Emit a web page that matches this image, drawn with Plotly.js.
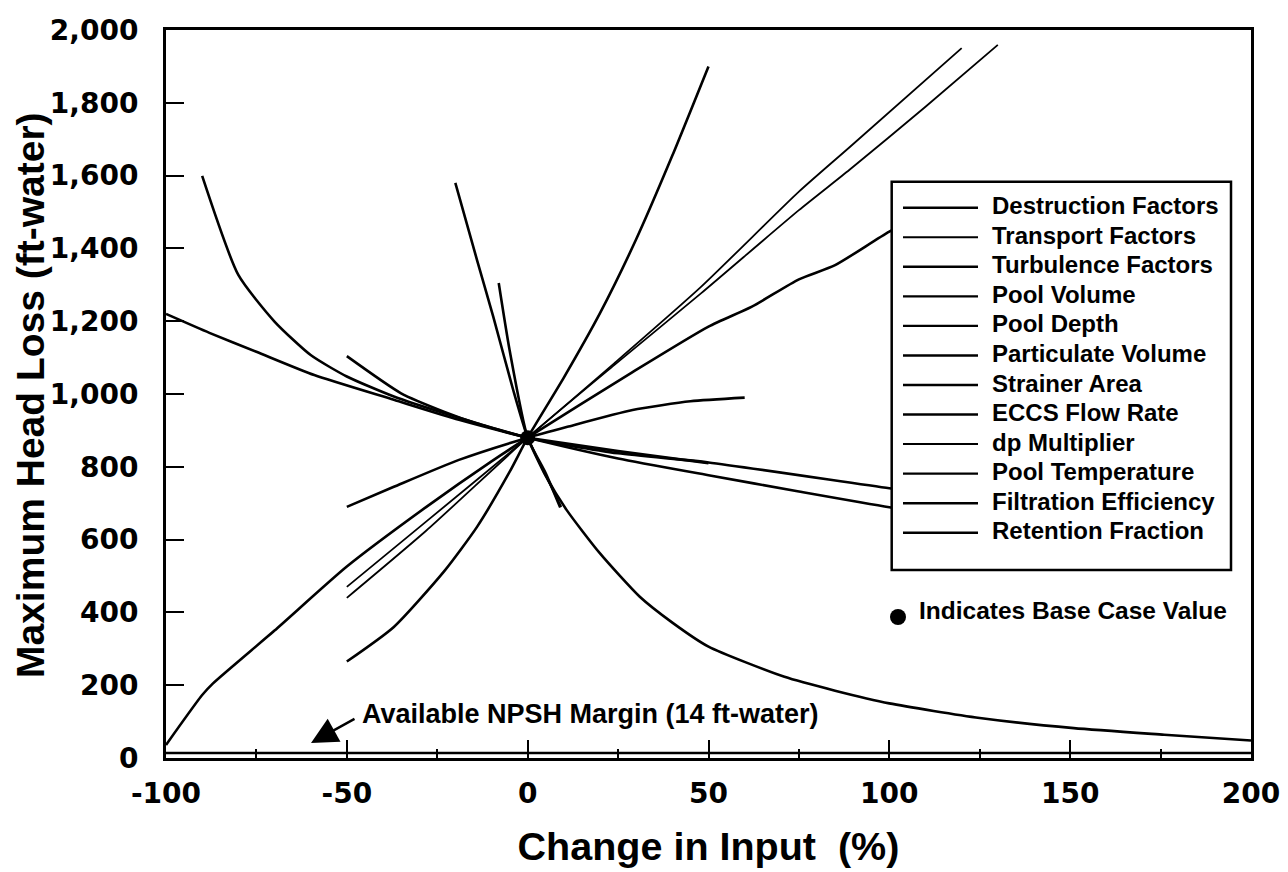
<!DOCTYPE html>
<html><head><meta charset="utf-8">
<script src="https://cdn.plot.ly/plotly-3.0.1.min.js"></script>
<style>html,body{margin:0;padding:0;background:#fff}</style>
</head><body><div id="chart" style="width:1288px;height:872px"></div>
<script>
// ---- data ----
const seriesNames = ["Destruction Factors","Transport Factors","Turbulence Factors","Pool Volume","Pool Depth","Particulate Volume","Strainer Area","ECCS Flow Rate","dp Multiplier","Pool Temperature","Filtration Efficiency","Retention Fraction"];

const destructionX = [-100,-90,-87,-70,-50,-28,-10,0,29,50,62,75,85,100,120];
const destructionY = [36,173,205,350,526,690,815,880,1060,1185,1240,1315,1354,1446,1550];

const transportX = [-50,-28,0,24,48,75,89,110,130];
const transportY = [440,625,880,1080,1277,1505,1616,1789,1959];

const turbulenceX = [-50,-37,-19,0,11,29,45,60];
const turbulenceY = [690,745,819,880,910,956,980,990];

const poolVolumeX = [-100,-88,-75,-59,-37,-19,0,25,50,75,100,120];
const poolVolumeY = [1220,1168,1116,1052,984,929,880,823,777,732,689,662];

const poolDepthX = [-90,-80,-70,-60,-50,-37,-23,0,25,50,100,120];
const poolDepthY = [1599,1327,1199,1107,1048,993,947,880,837,812,741,715];

const particulateX = [-50,-35,-23,-14,0];
const particulateY = [1104,1002,951,919,880];

const strainerX = [-20,-14,-9.5,-4,0,5,10.8,20,31,40,50,71,85,100,125,151,176,200];
const strainerY = [1580,1368,1212,1011,880,775,681,562,443,372,306,223,185,150,110,82,64,48];

const eccsX = [-50,-37,-23,-14,-5,0,10,20,30,40,50];
const eccsY = [265,360,514,635,786,880,1045,1222,1425,1655,1900];

const dpX = [-50,-28,0,24,48,75,89,120];
const dpY = [470,650,880,1085,1295,1556,1678,1950];

const poolTempX = [-8,-5,0,5,9];
const poolTempY = [1305,1121,880,782,688];

const filtrationX = [0,4.5,9.3];
const filtrationY = [880,785,690];

const retentionX = [0,25,50];
const retentionY = [880,843,810];

const baseX = [0];
const baseY = [880];

const npshX = [-100,200];
const npshY = [14,14];

const xTickVals = [-100,-50,0,50,100,150,200];
const xTickText = ["-100","-50","0","50","100","150","200"];
const yTickVals = [0,200,400,600,800,1000,1200,1400,1600,1800,2000];
const yTickText = ["0","200","400","600","800","1,000","1,200","1,400","1,600","1,800","2,000"];

// ---- styling ----
const seriesX = [destructionX,transportX,turbulenceX,poolVolumeX,poolDepthX,particulateX,strainerX,eccsX,dpX,poolTempX,filtrationX,retentionX];
const seriesY = [destructionY,transportY,turbulenceY,poolVolumeY,poolDepthY,particulateY,strainerY,eccsY,dpY,poolTempY,filtrationY,retentionY];
const widths = [2.6,1.8,2.6,2.6,2.6,2.6,2.6,2.6,1.8,2.6,2.0,2.6];

const PL=166, PR=1251, PT=30, PB=758;
const px = p => (p-PL)/(PR-PL);
const py = p => (PB-p)/(PB-PT);

const traces = seriesNames.map((n,i)=>({
  type:'scatter', mode:'lines', name:n, x:seriesX[i], y:seriesY[i],
  line:{color:'#000', width:widths[i], shape:'spline', smoothing:0.6},
  showlegend:false, hoverinfo:'name'
}));
traces.push({type:'scatter',mode:'lines',name:'Available NPSH Margin',x:npshX,y:npshY,
  line:{color:'#000',width:2.5},showlegend:false});
traces.push({type:'scatter',mode:'markers',name:'Base Case',x:baseX,y:baseY,
  marker:{color:'#000',size:15},showlegend:false});

const bold = (s,fam)=>({family:fam||'Liberation Sans, Arial, sans-serif',size:s,color:'#000',weight:'bold'});

const shapes = [{type:'rect',xref:'paper',yref:'paper',x0:px(891.7),x1:px(1231),y0:py(181.7),y1:py(570),
  line:{color:'#000',width:2.5},fillcolor:'#fff',layer:'above'}];
const annotations = [];
const rowTop = 205.7, rowGap = 29.55;
seriesNames.forEach((n,i)=>{
  const yc = rowTop + i*rowGap;
  shapes.push({type:'line',xref:'paper',yref:'paper',x0:px(903),x1:px(978),y0:py(yc+2),y1:py(yc+2),
    line:{color:'#000',width:widths[i]===1.8?2:2.4},layer:'above'});
  annotations.push({xref:'paper',yref:'paper',x:px(990),y:py(yc),xanchor:'left',yanchor:'middle',
    text:n,showarrow:false,font:bold(24)});
});
// base case key
shapes.push({type:'circle',xref:'paper',yref:'paper',x0:px(890),x1:px(906),y0:py(609),y1:py(625),
  fillcolor:'#000',line:{color:'#000',width:0},layer:'above'});
annotations.push({xref:'paper',yref:'paper',x:px(917),y:py(610),xanchor:'left',yanchor:'middle',
  text:'Indicates Base Case Value',showarrow:false,font:bold(24.5)});
// NPSH label and arrow
annotations.push({xref:'paper',yref:'paper',x:px(360),y:py(714),xanchor:'left',yanchor:'middle',
  text:'Available NPSH Margin (14 ft-water)',showarrow:false,font:bold(27)});
annotations.push({xref:'paper',yref:'paper',x:px(311),y:py(743),text:'',showarrow:true,
  ax:45,ay:-25,arrowhead:2,arrowsize:2.2,arrowwidth:2.4,arrowcolor:'#000',standoff:0});
// y-axis title (placed as rotated text)
annotations.push({xref:'paper',yref:'paper',x:px(30),y:py(395),xanchor:'center',yanchor:'middle',
  text:'Maximum Head Loss (ft-water)',textangle:-90,showarrow:false,font:bold(39)});

const layout = {
  width:1288,height:872,
  margin:{l:PL,r:1288-PR,t:PT,b:872-PB},
  paper_bgcolor:'#fff',plot_bgcolor:'#fff',
  showlegend:false,
  xaxis:{range:[-100,200],tickmode:'array',tickvals:xTickVals,ticktext:xTickText,
    ticks:'inside',ticklen:18,tickwidth:2,tickcolor:'#000',
    minor:{tickmode:'linear',tick0:-100,dtick:25,ticks:'inside',ticklen:9,tickwidth:2,tickcolor:'#000',showgrid:false},
    showline:true,mirror:true,linecolor:'#000',linewidth:3,showgrid:false,zeroline:false,
    tickfont:bold(28,'DejaVu Sans, sans-serif'),ticklabelstandoff:8,
    title:{text:'Change in Input\u00a0 (%)',font:bold(39.5),standoff:24}},
  yaxis:{range:[0,2000],tickmode:'array',tickvals:yTickVals,ticktext:yTickText,
    ticks:'inside',ticklen:18,tickwidth:2,tickcolor:'#000',
    showline:true,mirror:true,linecolor:'#000',linewidth:3,showgrid:false,zeroline:false,
    tickfont:bold(28,'DejaVu Sans, sans-serif'),ticklabelstandoff:19},
  shapes:shapes,annotations:annotations
};
Plotly.newPlot('chart',traces,layout,{displayModeBar:false,staticPlot:true});
</script></body></html>
